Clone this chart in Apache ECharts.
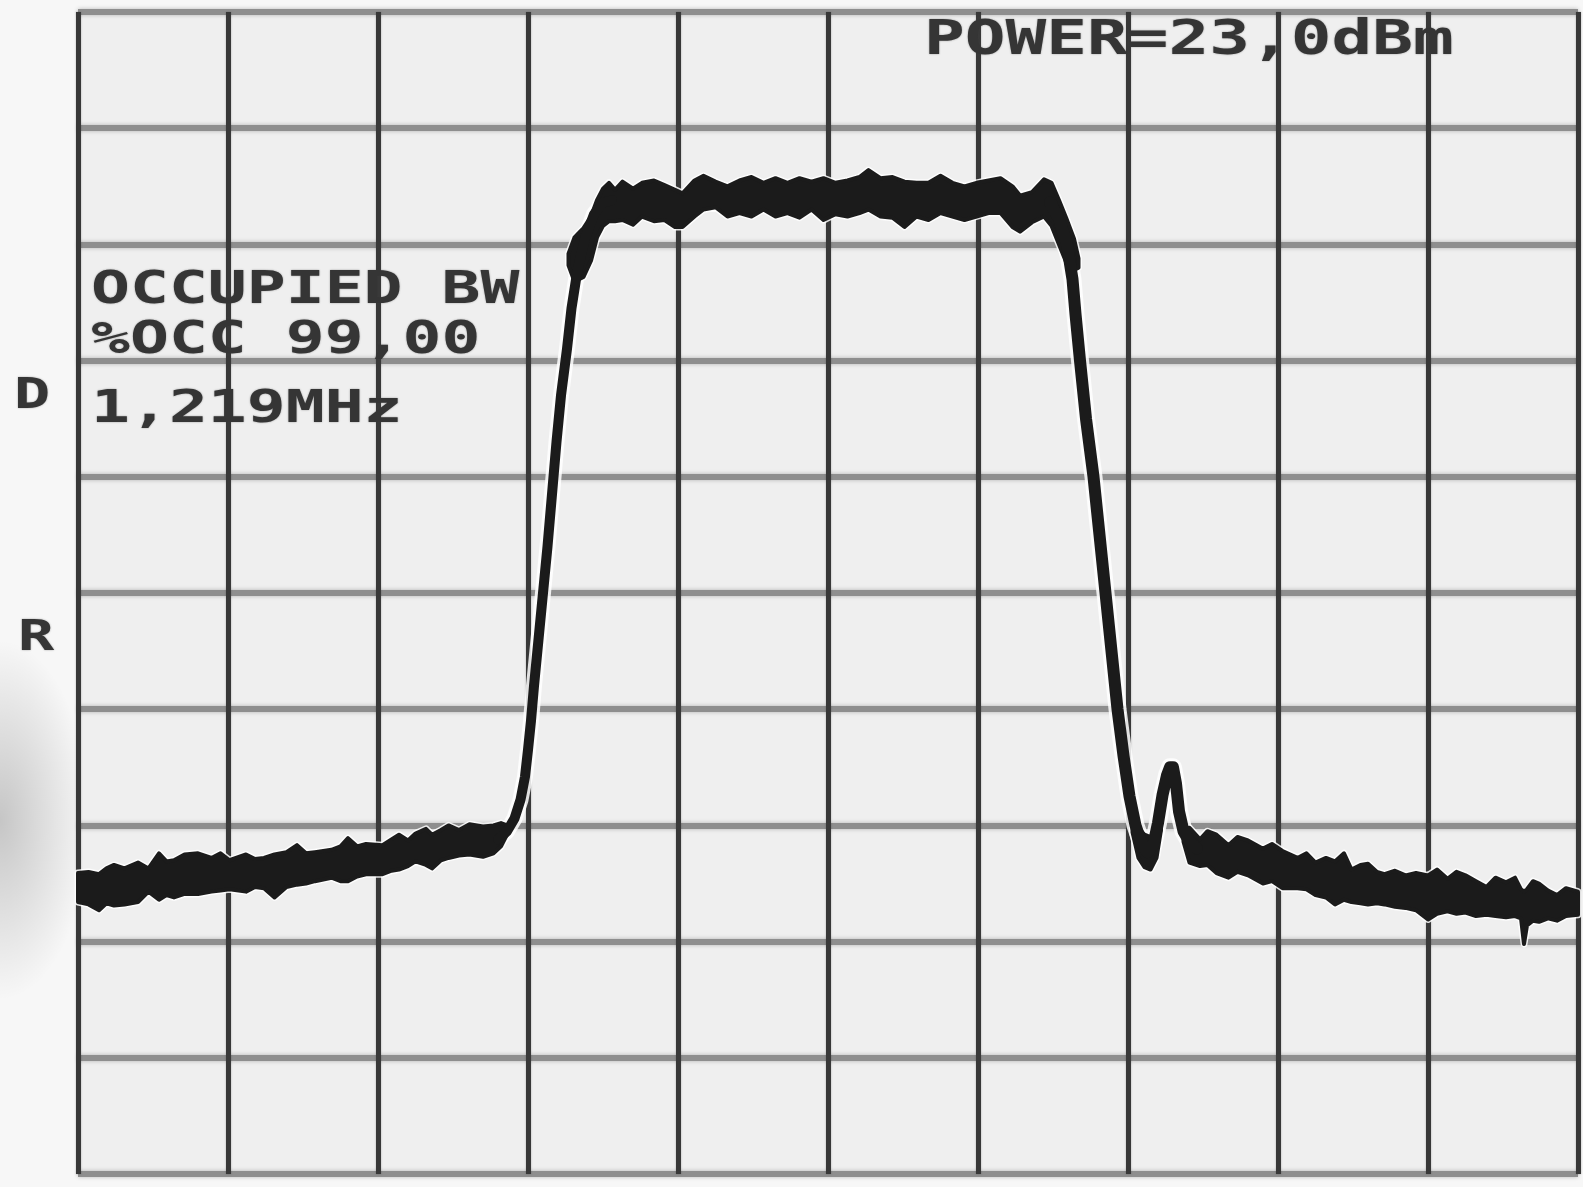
<!DOCTYPE html>
<html>
<head>
<meta charset="utf-8">
<style>
  html, body { margin: 0; padding: 0; background: #f7f7f7; }
  #chart { width: 1583px; height: 1187px; }
</style>
<script src="https://cdn.jsdelivr.net/npm/echarts@6/dist/echarts.min.js"></script>
</head>
<body>
<div id="chart"></div>
<script>
// Spectrum analyzer trace, screen divisions: x 0..10, y 0..10 (10 dB/div).
// Noisy parts are stored as [x, upper edge, lower edge] of the trace band.
const leftFloor = [
  [0.00, 2.59, 2.34], [0.07, 2.60, 2.32], [0.14, 2.58, 2.27], [0.19, 2.63, 2.33],
  [0.24, 2.66, 2.31], [0.31, 2.63, 2.32], [0.40, 2.68, 2.34], [0.47, 2.63, 2.43],
  [0.54, 2.76, 2.36], [0.59, 2.69, 2.40], [0.64, 2.70, 2.38], [0.71, 2.75, 2.41],
  [0.80, 2.76, 2.41], [0.89, 2.72, 2.43], [0.95, 2.76, 2.44], [1.01, 2.70, 2.45],
  [1.12, 2.75, 2.43], [1.18, 2.71, 2.47], [1.24, 2.72, 2.46], [1.31, 2.75, 2.38],
  [1.39, 2.77, 2.47], [1.46, 2.83, 2.49], [1.52, 2.76, 2.50], [1.58, 2.77, 2.52],
  [1.69, 2.79, 2.55], [1.75, 2.82, 2.52], [1.80, 2.89, 2.52], [1.86, 2.82, 2.56],
  [1.92, 2.84, 2.58], [2.03, 2.83, 2.58], [2.09, 2.88, 2.61], [2.14, 2.92, 2.62],
  [2.20, 2.87, 2.65], [2.25, 2.93, 2.69], [2.32, 2.97, 2.66], [2.36, 2.92, 2.63],
  [2.42, 2.96, 2.70], [2.47, 3.00, 2.72], [2.54, 2.96, 2.74], [2.61, 3.01, 2.75],
  [2.70, 2.99, 2.73], [2.77, 3.00, 2.76], [2.82, 3.02, 2.82], [2.86, 3.00, 2.92]
];

const plateau = [
  [3.27, 7.92, 7.82], [3.31, 8.06, 7.68], [3.37, 8.14, 7.72], [3.42, 8.24, 7.86],
  [3.46, 8.38, 8.06], [3.50, 8.48, 8.16], [3.54, 8.53, 8.20], [3.58, 8.47, 8.20],
  [3.63, 8.54, 8.21], [3.70, 8.48, 8.17], [3.76, 8.53, 8.24], [3.84, 8.55, 8.20],
  [3.91, 8.51, 8.21], [3.98, 8.47, 8.15], [4.03, 8.44, 8.15], [4.11, 8.55, 8.24],
  [4.17, 8.59, 8.30], [4.25, 8.54, 8.32], [4.33, 8.50, 8.24], [4.41, 8.55, 8.27],
  [4.49, 8.58, 8.24], [4.57, 8.53, 8.30], [4.65, 8.57, 8.24], [4.73, 8.53, 8.27],
  [4.81, 8.57, 8.23], [4.89, 8.54, 8.30], [4.97, 8.57, 8.21], [5.05, 8.53, 8.26],
  [5.13, 8.55, 8.24], [5.21, 8.58, 8.27], [5.27, 8.64, 8.30], [5.35, 8.57, 8.24],
  [5.43, 8.58, 8.23], [5.51, 8.54, 8.15], [5.59, 8.53, 8.24], [5.67, 8.53, 8.21],
  [5.75, 8.59, 8.27], [5.83, 8.53, 8.24], [5.91, 8.50, 8.21], [5.99, 8.53, 8.24],
  [6.07, 8.55, 8.27], [6.15, 8.57, 8.27], [6.23, 8.50, 8.15], [6.28, 8.42, 8.11],
  [6.36, 8.45, 8.19], [6.44, 8.56, 8.24], [6.49, 8.53, 8.16], [6.54, 8.38, 8.00],
  [6.59, 8.22, 7.84], [6.64, 8.05, 7.78], [6.67, 7.88, 7.80]
];

const notch = [
  [7.03, 3.04, 2.94], [7.07, 2.98, 2.72], [7.11, 2.92, 2.64], [7.15, 2.90, 2.62],
  [7.19, 2.98, 2.72], [7.22, 3.08, 2.96]
];

const rightFloor = [
  [7.37, 2.96, 2.86], [7.41, 2.98, 2.68], [7.48, 2.88, 2.65], [7.53, 2.95, 2.66],
  [7.59, 2.92, 2.59], [7.67, 2.83, 2.55], [7.73, 2.90, 2.60], [7.80, 2.87, 2.57],
  [7.90, 2.80, 2.50], [7.96, 2.84, 2.52], [8.03, 2.78, 2.46], [8.13, 2.72, 2.46],
  [8.19, 2.76, 2.45], [8.25, 2.68, 2.40], [8.32, 2.72, 2.38], [8.38, 2.69, 2.32],
  [8.44, 2.76, 2.36], [8.49, 2.62, 2.34], [8.55, 2.66, 2.33], [8.60, 2.67, 2.32],
  [8.66, 2.60, 2.33], [8.71, 2.58, 2.32], [8.78, 2.61, 2.30], [8.85, 2.57, 2.29],
  [8.92, 2.59, 2.27], [9.00, 2.57, 2.19], [9.06, 2.62, 2.24], [9.13, 2.54, 2.26],
  [9.19, 2.60, 2.24], [9.25, 2.57, 2.25], [9.32, 2.52, 2.22], [9.39, 2.47, 2.23],
  [9.45, 2.55, 2.22], [9.52, 2.51, 2.21], [9.58, 2.55, 2.22], [9.62, 2.45, 2.20],
  [9.64, 2.43, 1.98], [9.66, 2.45, 2.14], [9.70, 2.52, 2.18], [9.74, 2.50, 2.17],
  [9.80, 2.44, 2.20], [9.86, 2.40, 2.18], [9.92, 2.46, 2.22], [10.00, 2.43, 2.23]
];

// Steep skirts of the channel: [x, y] along the trace
const riseEdge = [
  [2.80, 2.88], [2.86, 2.95], [2.91, 3.06], [2.95, 3.22], [2.98, 3.42], [3.00, 3.65],
  [3.02, 3.90], [3.04, 4.20], [3.07, 4.60], [3.10, 5.00], [3.13, 5.40], [3.16, 5.85],
  [3.19, 6.30], [3.22, 6.70], [3.26, 7.10], [3.29, 7.45], [3.33, 7.78], [3.38, 8.05],
  [3.44, 8.26], [3.50, 8.36], [3.56, 8.38]
];

const fallEdge = [
  [6.48, 8.36], [6.54, 8.22], [6.59, 8.02], [6.63, 7.70], [6.65, 7.40], [6.68, 7.00],
  [6.72, 6.50], [6.77, 6.00], [6.81, 5.50], [6.85, 5.00], [6.89, 4.50], [6.93, 4.00],
  [6.97, 3.60], [7.01, 3.25], [7.05, 3.00], [7.09, 2.85], [7.13, 2.77], [7.17, 2.84],
  [7.20, 3.02], [7.23, 3.26], [7.26, 3.43], [7.28, 3.50], [7.30, 3.50], [7.32, 3.36],
  [7.34, 3.12], [7.37, 2.95], [7.41, 2.86], [7.46, 2.80]
];

// Screen annotations
const readoutLines = ['OCCUPIED BW', '%OCC 99,00', '1,219MHz'];
const powerLine = 'POWER=23,0dBm';
const sideMarks = ['D', 'R'];

const TRACE = '#1b1b1b';
const INK = '#353535';
const MONO = '"DejaVu Sans Mono", "Liberation Mono", monospace';

function bandSeries(name, rows) {
  return {
    type: 'custom',
    name: name,
    data: rows,
    encode: { x: 0, y: [1, 2] },
    z: 3,
    silent: true,
    renderItem: function (params, api) {
      if (params.dataIndex !== 0) return null;
      const upper = rows.map(r => api.coord([r[0], r[1]]));
      const lower = rows.map(r => api.coord([r[0], r[2]])).reverse();
      const pts = upper.concat(lower);
      return {
        type: 'group',
        children: [
          { type: 'polygon', shape: { points: pts },
            style: { fill: 'none', stroke: 'rgba(255,255,255,0.85)', lineWidth: 7, lineJoin: 'round' } },
          { type: 'polygon', shape: { points: pts },
            style: { fill: TRACE, stroke: TRACE, lineWidth: 4, lineJoin: 'round' } }
        ]
      };
    }
  };
}

function edgeSeries(name, pts, width, halo) {
  return {
    type: 'line',
    name: name,
    data: pts,
    symbol: 'none',
    smooth: false,
    silent: true,
    z: halo ? 2 : 4,
    lineStyle: halo
      ? { color: 'rgba(255,255,255,0.85)', width: width + 6, cap: 'round', join: 'round' }
      : { color: TRACE, width: width, cap: 'round', join: 'round' }
  };
}

function monoText(str, x, cy, size, sx) {
  return {
    type: 'text',
    x: x, y: cy, scaleX: sx, z: 20,
    style: {
      text: str,
      font: 'bold ' + size + 'px ' + MONO,
      fill: INK,
      align: 'left',
      verticalAlign: 'middle',
      textShadowColor: 'rgba(60,60,60,0.5)',
      textShadowBlur: 2
    }
  };
}

const chart = echarts.init(document.getElementById('chart'), null, { renderer: 'canvas' });

chart.setOption({
  animation: false,
  backgroundColor: '#f7f7f7',
  grid: {
    left: 78, right: 5, top: 12, bottom: 13,
    show: true, backgroundColor: '#efefef', borderWidth: 0
  },
  xAxis: {
    type: 'value', min: 0, max: 10, interval: 1,
    axisLine: { show: false }, axisTick: { show: false }, axisLabel: { show: false },
    splitLine: { show: true, lineStyle: { color: '#383838', width: 5, shadowColor: 'rgba(0,0,0,0.3)', shadowBlur: 2 } }
  },
  yAxis: {
    type: 'value', min: 0, max: 10, interval: 1,
    axisLine: { show: false }, axisTick: { show: false }, axisLabel: { show: false },
    splitLine: { show: true, lineStyle: { color: '#8e8e8e', width: 6, shadowColor: 'rgba(0,0,0,0.25)', shadowBlur: 4 } }
  },
  graphic: [
    {
      type: 'circle', x: 0, y: 820, scaleY: 2.0, z: -5, silent: true,
      shape: { cx: 0, cy: 0, r: 90 },
      style: {
        fill: {
          type: 'radial', x: 0.5, y: 0.5, r: 0.5,
          colorStops: [
            { offset: 0, color: 'rgba(0,0,0,0.2)' },
            { offset: 1, color: 'rgba(0,0,0,0)' }
          ]
        }
      }
    },
    monoText(readoutLines[0], 91, 292, 44, 1.47),
    monoText(readoutLines[1], 91, 342, 44, 1.47),
    monoText(readoutLines[2], 91, 411, 44, 1.47),
    monoText(powerLine, 924, 42, 48, 1.41),
    monoText(sideMarks[0], 14, 397, 43, 1.4),
    monoText(sideMarks[1], 18, 639, 43, 1.4)
  ],
  series: [
    edgeSeries('rise-halo', riseEdge, 10, true),
    edgeSeries('fall-halo', fallEdge, 12, true),
    bandSeries('floor-left', leftFloor),
    bandSeries('plateau', plateau),
    bandSeries('notch', notch),
    bandSeries('floor-right', rightFloor),
    edgeSeries('rise', riseEdge, 10, false),
    edgeSeries('fall', fallEdge, 12, false)
  ]
});
</script>
</body>
</html>
